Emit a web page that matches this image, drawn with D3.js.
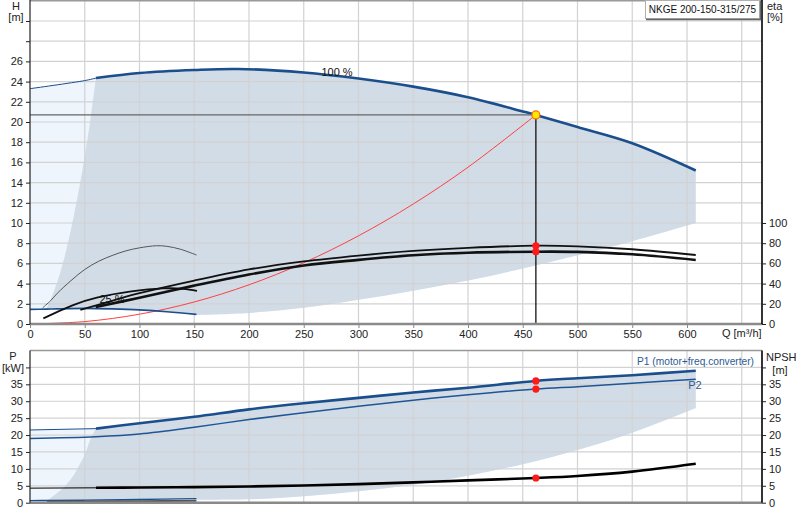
<!DOCTYPE html>
<html>
<head>
<meta charset="utf-8">
<script src="https://cdn.jsdelivr.net/npm/d3@7"></script>
<style>
  body { margin: 0; background: #fff; }
  svg { display: block; font-family: "Liberation Sans", Arial, sans-serif; }
</style>
</head>
<body>
<div id="app"></div>
<script>
// ---- tick labels ----
const qTicks   = [0, 50, 100, 150, 200, 250, 300, 350, 400, 450, 500, 550, 600, 650];
const hTicks   = [0, 2, 4, 6, 8, 10, 12, 14, 16, 18, 20, 22, 24, 26, 28, 30];
const etaTicks = [0, 20, 40, 60, 80, 100];
const pTicks   = [0, 5, 10, 15, 20, 25, 30, 35, 40];

// ---- QH at 100 % speed ----
const qH100 = [0, 50, 60.3, 100, 150, 190, 250, 300, 350, 400, 450, 462, 500, 550, 608];
const h100  = [23.3, 24.1, 24.35, 24.85, 25.15, 25.25, 24.9, 24.3, 23.5, 22.45, 21.05, 20.7, 19.5, 17.9, 15.2];

// ---- QH at 25 % speed ----
const q25 = [0, 15, 25, 50, 75, 100, 125, 152];
const h25 = [1.45, 1.47, 1.5, 1.55, 1.5, 1.4, 1.22, 0.95];

// ---- operating range boundaries (top panel) ----
const qLow  = [608, 550, 500, 450, 400, 350, 300, 250, 200, 152];
const hLow  = [10, 8.2, 6.8, 5.5, 4.3, 3.3, 2.4, 1.6, 1.1, 0.9];
const qMinF = [15, 20, 25, 30, 35, 40, 45, 50, 55, 60.3];
const hMinF = [1.5, 2.7, 4.2, 6.0, 8.2, 10.7, 13.5, 16.6, 20.1, 24.35];

// ---- system curve ----
const qSys = [0, 50, 100, 150, 200, 250, 300, 350, 400, 462];
const hSys = [0, 0.24, 0.97, 2.18, 3.88, 6.06, 8.73, 11.88, 15.52, 20.7];

// ---- efficiencies [%] ----
const qEtaP = [46, 75, 100, 150, 200, 250, 300, 350, 400, 462, 500, 550, 608];
const etaP  = [14, 23, 30.5, 43, 54, 62, 67.8, 72.4, 75.4, 77.5, 76.9, 74, 68.3];
const qEtaT = [60, 100, 150, 200, 250, 300, 350, 400, 462, 500, 550, 608];
const etaT  = [16.8, 26, 38, 49, 58, 63.5, 68, 70.5, 71.6, 71.4, 69, 63.4];
const qEtaP25 = [11.5, 18.75, 25, 37.5, 50, 62.5, 75, 87.5, 100, 115.5, 125, 137.5, 152];
const etaP25  = [16, 23, 30.5, 43, 54, 62, 67.8, 72.4, 75.4, 77.5, 76.9, 74, 68.3];
const qEtaT25 = [12.2, 25, 40, 61, 91, 121.6, 140, 152.5];
const etaT25  = [5.6, 12, 19, 26, 32, 35.3, 34.8, 32.7];

// ---- power / NPSH (bottom panel) ----
const qP   = [0, 60.3, 100, 150, 200, 250, 300, 350, 400, 462, 500, 550, 608];
const p1   = [21.5, 21.9, 23.5, 25.4, 27.6, 29.4, 31.0, 32.6, 34.0, 36.0, 36.8, 37.7, 39.0];
const p2   = [19.0, 19.5, 20.3, 22.3, 24.6, 26.6, 28.5, 30.3, 31.9, 33.6, 34.3, 35.3, 36.5];
const npsh = [4.3, 4.4, 4.5, 4.6, 4.8, 5.1, 5.5, 6.0, 6.6, 7.3, 7.9, 9.2, 11.5];
const qP25  = [0, 15.5, 50, 100, 152];
const p1_25 = [0.6, 0.65, 0.75, 0.95, 1.2];
const p2_25 = [0.25, 0.28, 0.35, 0.45, 0.55];
const qPLow = [608, 550, 500, 450, 400, 350, 300, 250, 200, 152];
const pLow  = [28, 20.7, 15.6, 11.4, 8.0, 5.3, 3.4, 1.9, 1.0, 0.9];
const qPMin = [15.5, 30, 40, 47.5, 50, 55, 59.5, 60.3];
const pMin  = [0.65, 4.3, 8.2, 12.6, 14.1, 18.6, 21.5, 21.9];

// ---- duty point ----
const dutyQ = 462, dutyH = 20.7;
const dutyEta = [77.5, 71.6];
const dutyP = [36.0, 33.6];
const dutyNpsh = 7.3;


function drawChart(target) {
  const svg = d3.select(target).append("svg")
    .attr("width", 800).attr("height", 520);

  const blue = "#1b4e8c", shadeDark = "#d1dce7", shadeLight = "#eef5fc", grid = "#d2d2d2";

  const x    = d3.scaleLinear().domain([0, 668.5]).range([30, 762]);
  const yH   = d3.scaleLinear().domain([0, 32]).range([324, 0.8]);
  const yEta = d3.scaleLinear().domain([0, 320]).range([324, 0.8]);
  const yP   = d3.scaleLinear().domain([0, 45]).range([502.7, 350.5]);

  const pts = (qs, vs) => qs.map((q, i) => [q, vs[i]]);
  const mkLine = y => d3.line().x(d => x(d[0])).y(d => y(d[1])).curve(d3.curveCatmullRom.alpha(0.5));
  const lineH = mkLine(yH), lineEta = mkLine(yEta), lineP = mkLine(yP);
  // glue several path pieces into one closed outline
  const joinPaths = segs => segs.map((s, i) => i === 0 ? s : "L" + s.slice(1)).join("") + "Z";

  // ---- shaded operating ranges ----
  const top100 = pts(qH100, h100);
  const bot25  = pts(q25, h25);
  svg.append("path").attr("fill", shadeLight)
    .attr("d", joinPaths([lineH(top100), lineH(pts(qLow, hLow)), lineH(bot25.slice().reverse())]));
  svg.append("path").attr("fill", shadeDark)
    .attr("d", joinPaths([
      lineH(top100.filter(d => d[0] >= 60.3)),
      lineH(pts(qLow, hLow)),
      lineH(bot25.filter(d => d[0] >= 15).reverse()),
      lineH(pts(qMinF, hMinF))
    ]));

  const p1pts = pts(qP, p1);
  const p125 = pts(qP25, p1_25);
  svg.append("path").attr("fill", shadeLight)
    .attr("d", joinPaths([lineP(p1pts), lineP(pts(qPLow, pLow)), lineP(p125.slice().reverse())]));
  svg.append("path").attr("fill", shadeDark)
    .attr("d", joinPaths([
      lineP(p1pts.filter(d => d[0] >= 60.3)),
      lineP(pts(qPLow, pLow)),
      lineP(p125.filter(d => d[0] >= 15.5).reverse()),
      lineP(pts(qPMin, pMin))
    ]));

  // ---- grid ----
  const g = svg.append("g").attr("stroke", grid).attr("stroke-width", 1.2);
  qTicks.filter(q => q > 0).forEach(q => {
    g.append("line").attr("x1", x(q)).attr("x2", x(q)).attr("y1", yH(32)).attr("y2", yH(0));
    g.append("line").attr("x1", x(q)).attr("x2", x(q)).attr("y1", yP(45)).attr("y2", yP(0));
  });
  hTicks.filter(h => h > 0).forEach(h => {
    g.append("line").attr("x1", x(0)).attr("x2", 762).attr("y1", yH(h)).attr("y2", yH(h));
  });
  pTicks.filter(p => p > 0).forEach(p => {
    g.append("line").attr("x1", x(0)).attr("x2", 762).attr("y1", yP(p)).attr("y2", yP(p));
  });

  // ---- top panel curves ----
  const path = (d, stroke, w) => svg.append("path").attr("d", d)
    .attr("fill", "none").attr("stroke", stroke).attr("stroke-width", w);

  path(lineH(pts(qSys, hSys)), "#ff4040", 1);
  path(lineH(bot25), blue, 1.6);
  path(lineEta(pts(qEtaP25, etaP25)), "#555", 1);
  path(lineEta(pts(qEtaT25, etaT25)), "#111", 1.8);
  path(lineEta(pts(qEtaP, etaP)), "#111", 1.8);
  path(lineEta(pts(qEtaT, etaT)), "#111", 2.6);
  path(lineH(top100.filter(d => d[0] <= 60.3)), blue, 1);
  path(lineH(top100.filter(d => d[0] >= 60.3)), blue, 2.6);

  // duty point guides
  svg.append("line").attr("x1", x(0)).attr("x2", x(dutyQ)).attr("y1", yH(dutyH)).attr("y2", yH(dutyH))
    .attr("stroke", "#666").attr("stroke-width", 1.2);
  svg.append("line").attr("x1", x(dutyQ)).attr("x2", x(dutyQ)).attr("y1", yH(dutyH)).attr("y2", yH(0))
    .attr("stroke", "#000").attr("stroke-width", 1.2);
  dutyEta.forEach(e => svg.append("circle").attr("cx", x(dutyQ)).attr("cy", yEta(e)).attr("r", 3.6).attr("fill", "#ff1a1a"));
  svg.append("circle").attr("cx", x(dutyQ)).attr("cy", yH(dutyH)).attr("r", 4)
    .attr("fill", "#ffe800").attr("stroke", "#ff6a00").attr("stroke-width", 1.2);

  // ---- bottom panel curves ----
  path(lineP(p125), blue, 1.4);
  path(lineP(pts(qP25, p2_25).filter(d => d[0] >= 15)), "#555", 2);
  path(lineP(pts(qP, p2)), "#1f5596", 1.5);
  path(lineP(p1pts.filter(d => d[0] <= 60.3)), blue, 1);
  path(lineP(p1pts.filter(d => d[0] >= 60.3)), blue, 2.6);
  const npshPts = pts(qP, npsh);
  path(lineP(npshPts.filter(d => d[0] <= 60.3)), "#000", 1);
  path(lineP(npshPts.filter(d => d[0] >= 60.3)), "#000", 2.6);
  dutyP.concat([dutyNpsh]).forEach(p => svg.append("circle")
    .attr("cx", x(dutyQ)).attr("cy", yP(p)).attr("r", 3.6).attr("fill", "#ff1a1a"));

  // ---- frames ----
  const frame = (x1, y1, x2, y2, c, w) => svg.append("line")
    .attr("x1", x1).attr("y1", y1).attr("x2", x2).attr("y2", y2).attr("stroke", c).attr("stroke-width", w);
  frame(30, 0.8, 762, 0.8, "#999", 1.5);
  frame(30, 324, 762, 324, "#8a8a8a", 2.5);
  frame(30, 0, 30, 324, "#222", 1.2);
  frame(762, 0, 762, 324, "#000", 1.6);
  frame(30, 350.5, 762, 350.5, "#999", 1.5);
  frame(30, 502.7, 762, 502.7, "#8a8a8a", 2.5);
  frame(30, 350.5, 30, 502.7, "#222", 1.2);
  frame(762, 350.5, 762, 502.7, "#000", 1.6);

  // ---- axes ----
  const styleAxis = (sel, col) => {
    sel.select(".domain").remove();
    sel.selectAll(".tick line").attr("stroke", col || "#222");
    sel.selectAll("text").attr("font-size", 11).attr("fill", "#222")
      .attr("font-family", "'Liberation Sans', Arial, sans-serif");
  };
  svg.append("g").attr("transform", "translate(30,0)")
    .call(d3.axisLeft(yH).tickValues(hTicks).tickSize(4).tickPadding(3).tickFormat(d => d <= 26 ? d : ""))
    .call(styleAxis);
  svg.append("g").attr("transform", "translate(762,0)")
    .call(d3.axisRight(yEta).tickValues(etaTicks).tickSize(4).tickPadding(3))
    .call(styleAxis);
  svg.append("g").attr("transform", "translate(0,324)")
    .call(d3.axisBottom(x).tickValues(qTicks.filter(q => q < 650)).tickSize(4).tickPadding(2))
    .call(s => styleAxis(s, "#888"));
  svg.append("g").attr("transform", "translate(30,0)")
    .call(d3.axisLeft(yP).tickValues(pTicks).tickSize(4).tickPadding(3).tickFormat(d => d <= 35 ? d : ""))
    .call(styleAxis);
  svg.append("g").attr("transform", "translate(762,0)")
    .call(d3.axisRight(yP).tickValues(pTicks).tickSize(4).tickPadding(3).tickFormat(d => d <= 35 ? d : ""))
    .call(styleAxis);

  // ---- texts ----
  const txt = (s, tx, ty, anchor, fill, size) => svg.append("text").text(s)
    .attr("x", tx).attr("y", ty).attr("font-size", size || 11)
    .attr("text-anchor", anchor || "start").attr("fill", fill || "#222");
  txt("H", 16, 10, "middle");
  txt("[m]", 16, 21, "middle");
  txt("eta", 767, 10);
  txt("[%]", 767, 21);
  txt("P", 13, 360, "middle");
  txt("[kW]", 13, 372, "middle");
  txt("NPSH", 766, 361);
  txt("[m]", 780, 374, "middle");
  txt("Q [m³/h]", x(650), 337, "middle");
  txt("100 %", 337, 76, "middle", "#111");
  txt("25 %", 112, 303, "middle", "#111");
  txt("P1 (motor+freq.converter)", 754, 365, "end", "#2c5a93", 10.2);
  txt("P2", 695, 389, "middle", "#2c5a93");

  // title box
  svg.append("rect").attr("x", 645.5).attr("y", 0.5).attr("width", 114).attr("height", 18)
    .attr("fill", "#fff").attr("stroke", "#b0b0b0");
  svg.append("path").attr("d", "M646,19.5 H760.5 V1").attr("fill", "none").attr("stroke", "#666").attr("stroke-width", 1.3);
  txt("NKGE 200-150-315/275", 702.5, 13, "middle", "#111", 10);
}

document.addEventListener("DOMContentLoaded", () => drawChart("#app"));
</script>
</body>
</html>
